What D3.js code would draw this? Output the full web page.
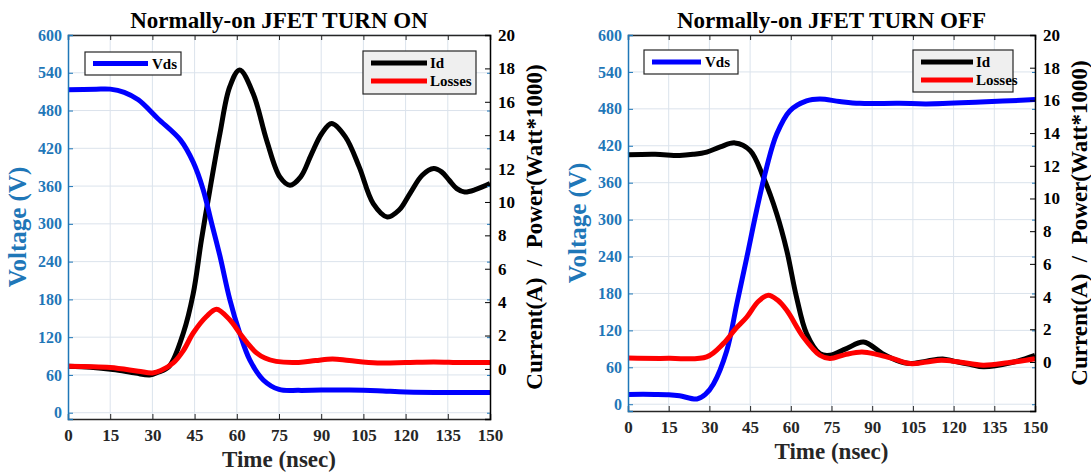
<!DOCTYPE html>
<html lang="en">
<head>
    <meta charset="utf-8"/>
    <title>Normally-on JFET switching</title>
    <script src="https://d3js.org/d3.v7.min.js"></script>
    <style>
        body { margin: 0; background: #fff; }
        text { font-family: "Liberation Serif", "Times New Roman", serif; font-weight: bold; }
    </style>
</head>
<body>
<script>
    // time axis ticks (nsec), shared by both panels
    const timeTicks = [0, 15, 30, 45, 60, 75, 90, 105, 120, 135, 150];
    const voltTicks = [0, 60, 120, 180, 240, 300, 360, 420, 480, 540, 600];
    const ampTicks = [0, 2, 4, 6, 8, 10, 12, 14, 16, 18, 20];

    // TURN ON: [time nsec, value]
    const vdsOn = [[0, 513], [10, 514], [15, 514], [20, 509], [25, 497], [32, 467], [40, 433], [44.5, 398],
        [48, 355], [51, 302], [54, 249], [57.5, 180], [61, 127], [64.6, 84], [69.4, 52], [75, 37], [82, 35.5],
        [90, 36], [100, 36], [110, 35], [120, 33], [135, 32], [150, 32]];
    const idOn = [[0, 0.16], [8, 0.1], [16, -0.04], [24, -0.25], [29, -0.36], [32, -0.2], [36, 0.16], [41, 2.15],
        [44.5, 4.5], [47.4, 7.7], [50.4, 10.7], [54, 14.1], [57.5, 16.9], [61, 17.9], [65.8, 16.5], [70.6, 13.7],
        [75.3, 11.5], [78.9, 11.0], [82.7, 11.5], [86.5, 12.85], [90.2, 14.1], [93.7, 14.7], [98.6, 13.9],
        [103.5, 12.1], [108.5, 9.9], [113.5, 9.1], [117.6, 9.5], [121.7, 10.55], [125.9, 11.6], [130, 12.0],
        [132.8, 11.8], [135.5, 11.3], [138.2, 10.8], [141, 10.6], [145, 10.75], [150, 11.1]];
    const lossOn = [[0, 0.16], [15, 0.08], [25, -0.14], [30, -0.24], [33, -0.1], [37.4, 0.36], [41, 1.1],
        [44.5, 2.15], [49.2, 3.14], [52.8, 3.58], [57.5, 2.94], [61, 2.15], [64, 1.5], [67, 0.96], [70, 0.65],
        [74, 0.45], [82, 0.39], [88, 0.5], [94, 0.6], [100, 0.5], [110, 0.36], [120, 0.38], [130, 0.42],
        [140, 0.38], [150, 0.39]];

    // TURN OFF: [time nsec, value]
    const vdsOff = [[0, 16], [10, 16], [15, 15.5], [19, 13.8], [25.4, 8.5], [28.5, 16], [31.5, 33], [36.4, 87],
        [40.1, 163], [43.8, 239], [47.4, 315], [51.1, 385], [54.8, 439], [59.7, 477], [65.8, 493], [70.7, 496],
        [78, 492], [85.4, 489], [100, 489], [110, 488], [130, 491], [150, 495]];
    const idOff = [[0, 12.67], [10, 12.7], [19, 12.63], [24, 12.7], [29, 12.84], [34, 13.15], [39.4, 13.4],
        [45, 12.94], [49.9, 11.3], [54.8, 9.07], [58.5, 6.83], [62.1, 3.97], [65.8, 1.74], [70.7, 0.51],
        [74.4, 0.41], [80.5, 0.82], [86.8, 1.22], [93.8, 0.51], [99, 0.1], [104, -0.1], [110, 0.05], [116, 0.18],
        [120, 0.05], [126, -0.15], [131, -0.3], [141, -0.06], [150, 0.41]];
    const lossOff = [[0, 0.24], [15, 0.22], [29, 0.31], [35.1, 1.12], [39.5, 2.0], [43.8, 2.75], [48, 3.7],
        [51.7, 4.08], [55, 3.8], [58.5, 3.16], [64.6, 1.53], [70.7, 0.41], [74.4, 0.21], [80, 0.45], [86.2, 0.61],
        [92, 0.45], [97.7, 0.2], [104, -0.1], [110, 0.0], [115.5, 0.1], [122, 0.0], [130.9, -0.2], [140, -0.05],
        [150, 0.2]];

    const BLUE_AXIS = "#1f77b8";
    const DARK = "#262626";
    const GRID = "#dbe3ec";

    const svg = d3.select("body")
        .append("svg")
        .attr("width", 1091)
        .attr("height", 472);

    function drawPanel(p) {
        const g = svg.append("g");
        const x = d3.scaleLinear().domain([0, 150]).range([p.left, p.right]);
        const yV = d3.scaleLinear().domain([p.vMin, 600]).range([p.bottom, p.top]);
        const yI = d3.scaleLinear().domain([-3, 20]).range([p.bottom, p.top]);

        // grid (left axis + time)
        g.append("g").selectAll("line").data(timeTicks.slice(1, -1)).enter().append("line")
            .attr("x1", d => x(d)).attr("x2", d => x(d))
            .attr("y1", p.top).attr("y2", p.bottom)
            .attr("stroke", GRID).attr("stroke-width", 1);
        g.append("g").selectAll("line").data(voltTicks).enter().append("line")
            .attr("x1", p.left).attr("x2", p.right)
            .attr("y1", d => yV(d)).attr("y2", d => yV(d))
            .attr("stroke", GRID).attr("stroke-width", 1);

        // curves
        const series = [
            {data: p.id, y: yI, color: "#000000"},
            {data: p.vds, y: yV, color: "#0000ff"},
            {data: p.loss, y: yI, color: "#ff0000"}
        ];
        series.forEach(s => {
            const line = d3.line()
                .x(d => x(d[0]))
                .y(d => s.y(d[1]))
                .curve(d3.curveCatmullRom.alpha(0.5));
            g.append("path")
                .datum(s.data)
                .attr("d", line)
                .attr("fill", "none")
                .attr("stroke", s.color)
                .attr("stroke-width", 5)
                .attr("stroke-linejoin", "round");
        });

        // bottom axis, ticks pointing inward
        const xAxis = d3.axisBottom(x).tickValues(timeTicks).tickSize(-5).tickPadding(p.xPad);
        const gx = g.append("g").attr("transform", `translate(0,${p.bottom})`).call(xAxis);
        gx.select(".domain").attr("stroke", DARK).attr("stroke-width", 1.5);
        gx.selectAll(".tick line").attr("stroke", DARK);
        gx.selectAll("text").attr("fill", DARK).style("font-size", "17px");

        // top border with ticks
        const gt = g.append("g").attr("transform", `translate(0,${p.top})`)
            .call(d3.axisTop(x).tickValues(timeTicks).tickSize(-5).tickFormat(""));
        gt.select(".domain").attr("stroke", DARK).attr("stroke-width", 1.5);
        gt.selectAll(".tick line").attr("stroke", DARK);

        // left axis (voltage)
        const gl = g.append("g").attr("transform", `translate(${p.left},0)`)
            .call(d3.axisLeft(yV).tickValues(voltTicks).tickSize(-5).tickPadding(6));
        gl.select(".domain").attr("stroke", BLUE_AXIS).attr("stroke-width", 1.5);
        gl.selectAll(".tick line").attr("stroke", BLUE_AXIS);
        gl.selectAll("text").attr("fill", BLUE_AXIS).style("font-size", "16px");

        // voltage ticks mirrored on the right side
        g.append("g").attr("transform", `translate(${p.right},0)`)
            .call(d3.axisRight(yV).tickValues(voltTicks).tickSize(-3).tickFormat(""))
            .call(a => a.select(".domain").remove())
            .selectAll(".tick line").attr("stroke", BLUE_AXIS);

        // right axis (current / power)
        const gr = g.append("g").attr("transform", `translate(${p.right},0)`)
            .call(d3.axisRight(yI).tickValues(ampTicks).tickSize(-5).tickPadding(8));
        gr.select(".domain").attr("stroke", "#000").attr("stroke-width", 1.5);
        gr.selectAll(".tick line").attr("stroke", "#000");
        gr.selectAll("text").attr("fill", "#000").style("font-size", "17px");

        // titles and labels
        const cx = (p.left + p.right) / 2;
        const cy = (p.top + p.bottom) / 2;
        g.append("text").attr("x", cx).attr("y", 28).attr("text-anchor", "middle")
            .style("font-size", "23px").attr("fill", "#000").text(p.title);
        g.append("text").attr("x", cx).attr("y", p.xLabelY).attr("text-anchor", "middle")
            .style("font-size", "23px").attr("fill", DARK).text("Time (nsec)");
        g.append("text").attr("transform", `translate(${p.left - 42},${cy}) rotate(-90)`)
            .attr("text-anchor", "middle").style("font-size", "25px").attr("fill", BLUE_AXIS)
            .text("Voltage (V)");
        g.append("text").attr("transform", `translate(${p.right + 52},${cy}) rotate(-90)`)
            .attr("text-anchor", "middle").style("font-size", "23px").attr("fill", "#000")
            .attr("xml:space", "preserve")
            .text("Current(A)  /  Power(Watt*1000)");

        // legends
        const lv = p.legV;
        g.append("rect").attr("x", lv.x).attr("y", lv.y).attr("width", lv.w).attr("height", lv.h)
            .attr("fill", "#fff").attr("stroke", DARK).attr("stroke-width", 1.2);
        g.append("line").attr("x1", lv.x + 8).attr("x2", lv.x + 8 + lv.len)
            .attr("y1", lv.y + lv.h / 2).attr("y2", lv.y + lv.h / 2)
            .attr("stroke", "#0000ff").attr("stroke-width", 5);
        g.append("text").attr("x", lv.x + 12 + lv.len).attr("y", lv.y + lv.h / 2 + 5)
            .style("font-size", "15px").attr("fill", "#000").text("Vds");

        const li = p.legI;
        g.append("rect").attr("x", li.x).attr("y", li.y).attr("width", li.w).attr("height", li.h)
            .attr("fill", "#efefef").attr("stroke", DARK).attr("stroke-width", 1.2);
        [["Id", "#000000"], ["Losses", "#ff0000"]].forEach((item, i) => {
            const ly = li.y + 12 + i * 18;
            g.append("line").attr("x1", li.x + 8).attr("x2", li.x + 8 + li.len)
                .attr("y1", ly).attr("y2", ly)
                .attr("stroke", item[1]).attr("stroke-width", 5);
            g.append("text").attr("x", li.x + 11 + li.len).attr("y", ly + 5)
                .style("font-size", "15px").attr("fill", "#000").text(item[0]);
        });
    }

    drawPanel({
        title: "Normally-on JFET TURN ON",
        left: 68, right: 490, top: 35, bottom: 419, vMin: -10,
        xPad: 10, xLabelY: 467,
        vds: vdsOn, id: idOn, loss: lossOn,
        legV: {x: 85, y: 52, w: 96, h: 23, len: 55},
        legI: {x: 363, y: 51, w: 113, h: 43, len: 56}
    });

    drawPanel({
        title: "Normally-on JFET TURN OFF",
        left: 628, right: 1035, top: 35, bottom: 411, vMin: -11,
        xPad: 10, xLabelY: 459,
        vds: vdsOff, id: idOff, loss: lossOff,
        legV: {x: 644, y: 50, w: 94, h: 24, len: 49},
        legI: {x: 913, y: 50, w: 100, h: 42, len: 52}
    });
</script>
</body>
</html>
